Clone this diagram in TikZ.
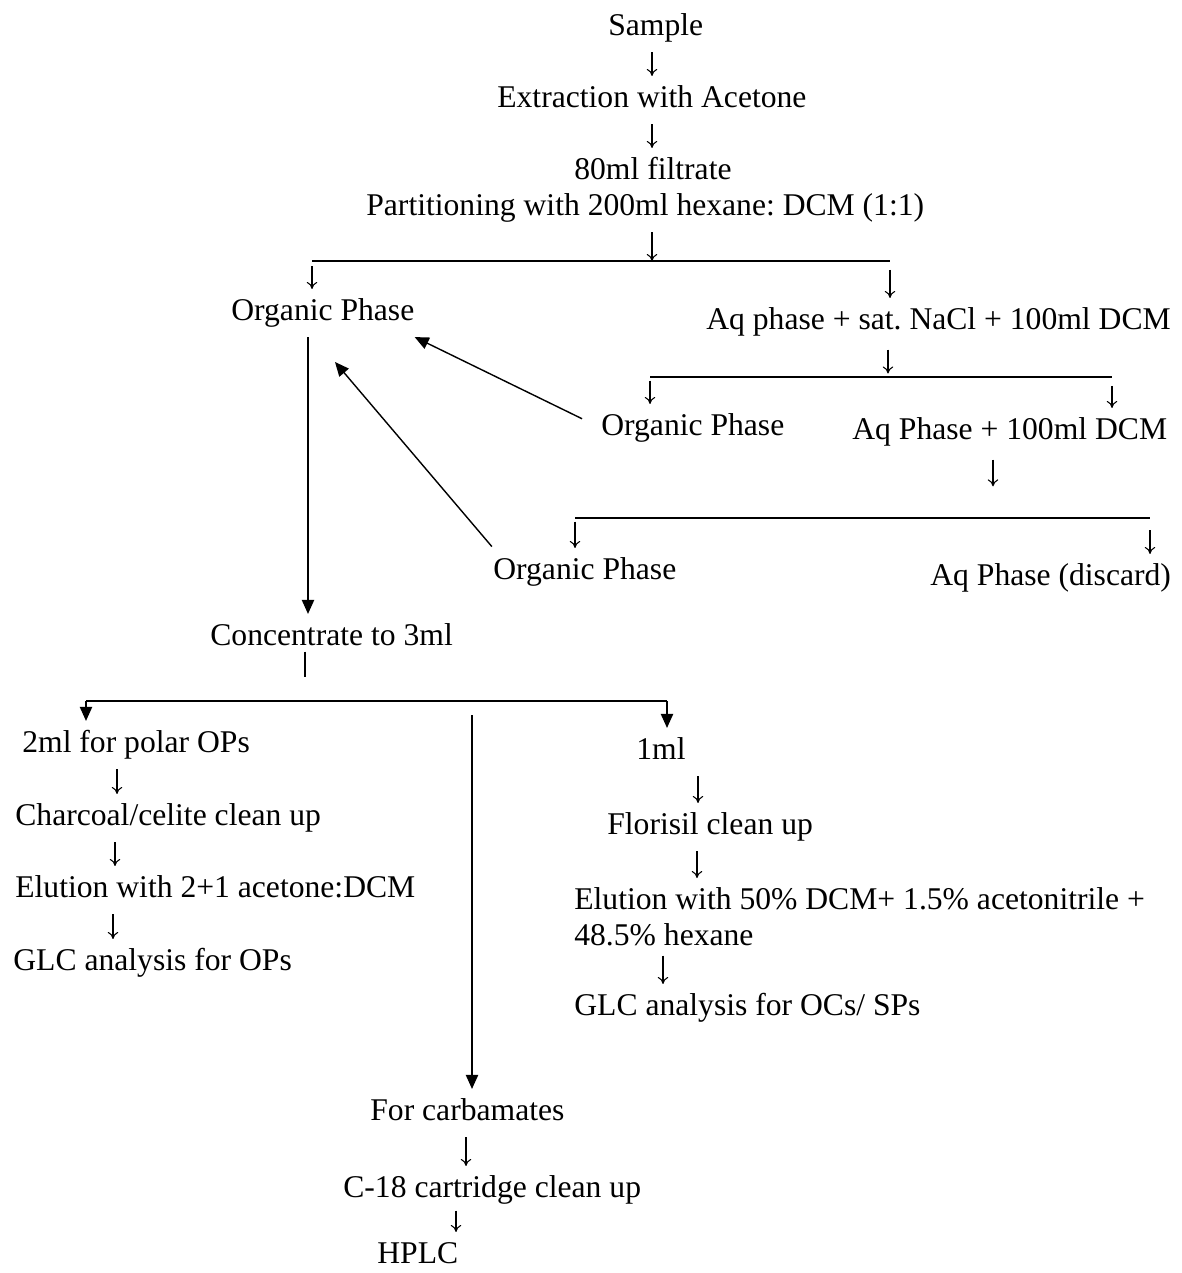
\documentclass[tikz,border=0pt]{standalone}
\usepackage{fontspec}
\setmainfont{Liberation Serif}
\usetikzlibrary{arrows.meta}
\frenchspacing

\begin{document}
\begin{tikzpicture}[x=0.02cm, y=-0.02cm,
  lbl/.style={anchor=west, inner xsep=0pt, inner ysep=5pt,
    font=\fontsize{18}{21}\selectfont, text height=13pt, text depth=4pt},
  dn/.style={-{To[length=4pt,width=6pt]}, line width=0.6pt},
  big/.style={-{Triangle[length=8pt,width=7pt]}, line width=0.8pt},
  bar/.style={line width=0.8pt}]
  \useasboundingbox (0,0) rectangle (1181,1273);

  % top of the chart
  \node[lbl] (sample) at (608,28) {Sample};
  \node[lbl] (extr) at (497,100) {Extraction with Acetone};
  \node[lbl] (filt) at (574,172) {80ml filtrate};
  \node[lbl] (part) at (366,208) {Partitioning with 200ml hexane: DCM (1:1)};

  \draw[dn] (652,0 |- sample.south) -- (652,0 |- extr.north);
  \draw[dn] (652,0 |- extr.south) -- (652,0 |- filt.north);

  % first partition
  \coordinate (br1l) at (312,261);
  \coordinate (br1r) at (890,261);
  \draw[bar] (br1l) -- (br1r);
  \draw[dn] (652,0 |- part.south) -- (652,0 |- br1l);

  \node[lbl] (orgA) at (231,313) {Organic Phase};
  \node[lbl] (aqA) at (706,322) {Aq phase + sat. NaCl + 100ml DCM};
  \draw[dn, shorten <=3pt] (br1l) -- (br1l |- orgA.north);
  \draw[dn, shorten <=5pt] (br1r) -- (br1r |- aqA.north);

  % second partition
  \coordinate (br2l) at (650,377);
  \coordinate (br2r) at (1112,377);
  \draw[bar] (br2l) -- (br2r);
  \draw[dn, shorten <=2pt, shorten >=2pt] (888,0 |- aqA.south) -- (888,0 |- br2l);

  \node[lbl] (orgB) at (601,428) {Organic Phase};
  \node[lbl] (aqB) at (852,432) {Aq Phase + 100ml DCM};
  \draw[dn, shorten <=2pt] (br2l) -- (br2l |- orgB.north);
  \draw[dn, shorten <=5pt] (br2r) -- (br2r |- aqB.north);

  % third partition
  \coordinate (br3l) at (575,518);
  \coordinate (br3r) at (1150,518);
  \draw[bar] (br3l) -- (br3r);
  \draw[dn, shorten <=2pt, shorten >=18pt] (993,0 |- aqB.south) -- (993,0 |- br3l);

  \node[lbl] (orgC) at (493,572) {Organic Phase};
  \node[lbl] (aqC) at (930,578) {Aq Phase (discard)};
  \draw[dn, shorten <=2pt] (br3l) -- (br3l |- orgC.north);
  \draw[dn, shorten <=7pt] (br3r) -- (br3r |- aqC.north);

  % organic phases pooled
  \coordinate (inA) at (335,362);
  \draw[big, shorten <=12pt] (orgB.west) -- (orgA.south east);
  \draw[big, shorten <=1pt] (orgC.north west) -- (inA);

  \node[lbl] (conc) at (210,638) {Concentrate to 3ml};
  \draw[big] (308,0 |- orgA.south) -- (308,0 |- conc.north);

  % split of the concentrate
  \coordinate (stub) at (305,677);
  \draw[bar] ([yshift=6pt]305,0 |- conc.south) -- (stub);
  \coordinate (br4l) at (86,701);
  \coordinate (br4r) at (667,701);
  \draw[bar] (br4l) -- (br4r);

  \node[lbl] (pol) at (22,745) {2ml for polar OPs};
  \node[lbl] (char) at (15,818) {Charcoal/celite clean up};
  \node[lbl] (elA) at (15,890) {Elution with 2+1 acetone:DCM};
  \node[lbl] (glcA) at (13,963) {GLC analysis for OPs};
  \draw[big] (br4l) -- (br4l |- pol.north);
  \draw[dn] (117,0 |- pol.south) -- (117,0 |- char.north);
  \draw[dn] (115,0 |- char.south) -- (115,0 |- elA.north);
  \draw[dn] (113,0 |- elA.south) -- (113,0 |- glcA.north);

  \node[lbl] (oneml) at (636,752) {1ml};
  \node[lbl] (flor) at (607,827) {Florisil clean up};
  \node[lbl, anchor=north west, text height={}, text depth={}, align=left]
    (elB) at (574,878) {Elution with 50\% DCM+ 1.5\% acetonitrile +\\48.5\% hexane};
  \node[lbl] (glcB) at (574,1008) {GLC analysis for OCs/ SPs};
  \draw[big] (br4r) -- (br4r |- oneml.north);
  \draw[dn] (698,0 |- oneml.south) -- (698,0 |- flor.north);
  \draw[dn] (697,0 |- flor.south) -- (697,0 |- elB.north);
  \draw[dn] (663,0 |- elB.south) -- (663,0 |- glcB.north);

  \coordinate (carbtop) at (472,715);
  \node[lbl] (carb) at (370,1113) {For carbamates};
  \node[lbl] (c18) at (343,1190) {C-18 cartridge clean up};
  \node[lbl] (hplc) at (377,1256) {HPLC};
  \draw[big] (carbtop) -- (carbtop |- carb.north);
  \draw[dn] (466,0 |- carb.south) -- (466,0 |- c18.north);
  \draw[dn, shorten <=-2pt] (456,0 |- c18.south) -- (456,0 |- hplc.north);
\end{tikzpicture}
\end{document}
